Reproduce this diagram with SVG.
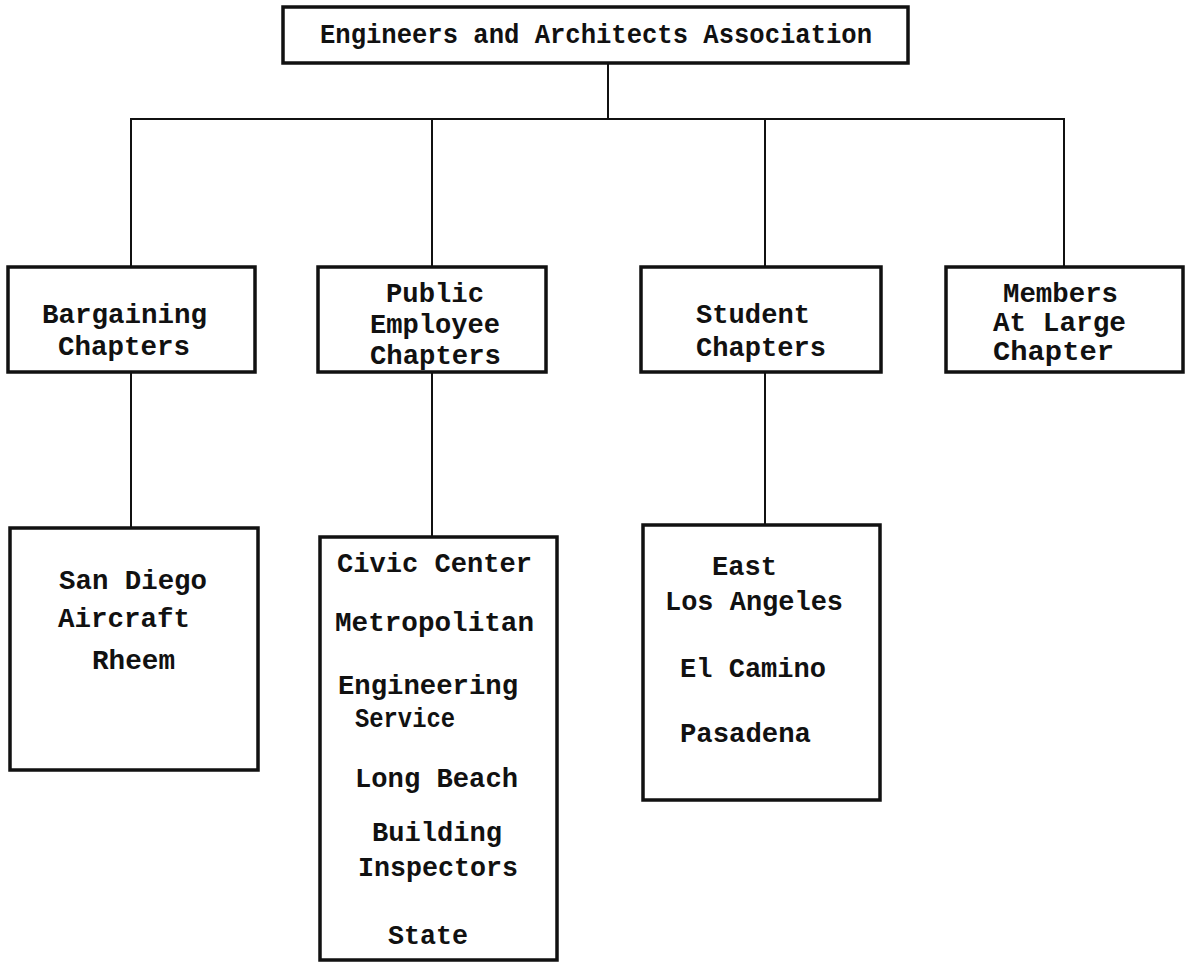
<svg xmlns="http://www.w3.org/2000/svg" width="1191" height="966" viewBox="0 0 1191 966">
<style>
.box{fill:#fff;stroke:#111;stroke-width:3.5}
.t{font-family:"Liberation Mono","Courier New",monospace;font-size:27px;font-weight:bold;fill:#111}
.c{stroke:#111;stroke-width:2;fill:none}
</style>
<rect width="1191" height="966" fill="#fff"/>
<g id="connectors">
<line class="c" x1="608" y1="63" x2="608" y2="119"/>
<line class="c" x1="130" y1="119" x2="1065" y2="119"/>
<line class="c" x1="131" y1="119" x2="131" y2="267"/>
<line class="c" x1="432" y1="119" x2="432" y2="267"/>
<line class="c" x1="765" y1="119" x2="765" y2="267"/>
<line class="c" x1="1064" y1="119" x2="1064" y2="267"/>
<line class="c" x1="131" y1="372" x2="131" y2="528"/>
<line class="c" x1="432" y1="372" x2="432" y2="537"/>
<line class="c" x1="765" y1="372" x2="765" y2="525"/>
</g>
<g id="root">
<rect class="box" x="283" y="7" width="625" height="56"/>
<text class="t" x="320" y="43" textLength="552" lengthAdjust="spacingAndGlyphs">Engineers and Architects Association</text>
</g>
<g id="bargaining">
<rect class="box" x="8" y="267" width="247" height="105"/>
<text class="t" x="42" y="323" textLength="165" lengthAdjust="spacingAndGlyphs">Bargaining</text>
<text class="t" x="58" y="355" textLength="132" lengthAdjust="spacingAndGlyphs">Chapters</text>
</g>
<g id="public">
<rect class="box" x="318" y="267" width="228" height="105"/>
<text class="t" x="386" y="302" textLength="98" lengthAdjust="spacingAndGlyphs">Public</text>
<text class="t" x="370" y="333" textLength="130" lengthAdjust="spacingAndGlyphs">Employee</text>
<text class="t" x="370" y="364" textLength="131" lengthAdjust="spacingAndGlyphs">Chapters</text>
</g>
<g id="student">
<rect class="box" x="641" y="267" width="240" height="105"/>
<text class="t" x="696" y="323" textLength="114" lengthAdjust="spacingAndGlyphs">Student</text>
<text class="t" x="696" y="356" textLength="130" lengthAdjust="spacingAndGlyphs">Chapters</text>
</g>
<g id="members">
<rect class="box" x="946" y="267" width="237" height="105"/>
<text class="t" x="1003" y="302" textLength="115" lengthAdjust="spacingAndGlyphs">Members</text>
<text class="t" x="993" y="331" textLength="133" lengthAdjust="spacingAndGlyphs">At Large</text>
<text class="t" x="993" y="360" textLength="121" lengthAdjust="spacingAndGlyphs">Chapter</text>
</g>
<g id="bargaining-list">
<rect class="box" x="10" y="528" width="248" height="242"/>
<text class="t" x="59" y="589" textLength="148" lengthAdjust="spacingAndGlyphs">San Diego</text>
<text class="t" x="58" y="627" textLength="132" lengthAdjust="spacingAndGlyphs">Aircraft</text>
<text class="t" x="92" y="669" textLength="83" lengthAdjust="spacingAndGlyphs">Rheem</text>
</g>
<g id="public-list">
<rect class="box" x="320" y="537" width="237" height="423"/>
<text class="t" x="337" y="572" textLength="195" lengthAdjust="spacingAndGlyphs">Civic Center</text>
<text class="t" x="335" y="631" textLength="199" lengthAdjust="spacingAndGlyphs">Metropolitan</text>
<text class="t" x="338" y="694" textLength="180" lengthAdjust="spacingAndGlyphs">Engineering</text>
<text class="t" x="355" y="727" textLength="100" lengthAdjust="spacingAndGlyphs">Service</text>
<text class="t" x="355" y="787" textLength="163" lengthAdjust="spacingAndGlyphs">Long Beach</text>
<text class="t" x="372" y="841" textLength="130" lengthAdjust="spacingAndGlyphs">Building</text>
<text class="t" x="358" y="876" textLength="160" lengthAdjust="spacingAndGlyphs">Inspectors</text>
<text class="t" x="388" y="944" textLength="80" lengthAdjust="spacingAndGlyphs">State</text>
</g>
<g id="student-list">
<rect class="box" x="643" y="525" width="237" height="275"/>
<text class="t" x="712" y="575" textLength="65" lengthAdjust="spacingAndGlyphs">East</text>
<text class="t" x="665" y="610" textLength="178" lengthAdjust="spacingAndGlyphs">Los Angeles</text>
<text class="t" x="680" y="677" textLength="146" lengthAdjust="spacingAndGlyphs">El Camino</text>
<text class="t" x="680" y="742" textLength="131" lengthAdjust="spacingAndGlyphs">Pasadena</text>
</g>
</svg>
